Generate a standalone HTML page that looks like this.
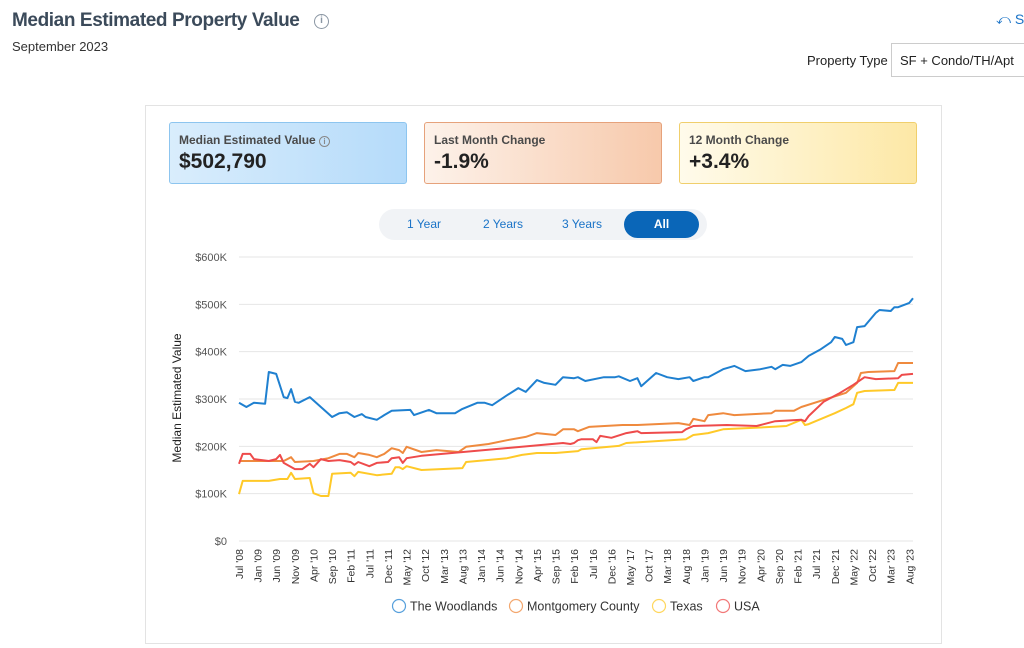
<!DOCTYPE html>
<html><head><meta charset="utf-8">
<style>
*{box-sizing:border-box;margin:0;padding:0}
body{width:1024px;height:648px;background:#fff;font-family:"Liberation Sans",sans-serif;position:relative;overflow:hidden;color:#222}
.abs{position:absolute}
.stat{position:absolute;top:122px;height:62px;width:238px;border-radius:3px;border:1px solid}
.stat .l{position:absolute;left:9px;top:10px;font-size:12px;font-weight:bold;color:#4a4a4a;white-space:nowrap}
.stat .v{position:absolute;left:9px;top:27px;font-size:21px;font-weight:bold;color:#222}
.tg{position:absolute;top:209px;height:31px;font-size:12px;color:#1a73c7;line-height:31px;text-align:center}
</style></head><body>
<div class="abs" style="left:12px;top:10px;font-size:19px;letter-spacing:-0.4px;font-weight:bold;color:#3b4a5a;white-space:nowrap">Median Estimated Property Value</div>
<div class="abs" style="left:314px;top:14px;width:15px;height:15px;border:1.5px solid #8a96a3;border-radius:50%;font-size:10px;color:#8a96a3;text-align:center;line-height:12px;font-weight:bold">i</div>
<div class="abs" style="left:12px;top:39px;font-size:13px;color:#333">September 2023</div>
<div class="abs" style="left:996px;top:11px;font-size:14px;color:#1a73c7;white-space:nowrap">⤺ S</div>
<div class="abs" style="left:807px;top:53px;font-size:13px;color:#222">Property Type</div>
<div class="abs" style="left:891px;top:43px;width:140px;height:34px;border:1px solid #ccc;font-size:13px;padding:9px 8px;color:#222;white-space:nowrap">SF + Condo/TH/Apt</div>

<div class="abs" style="left:145px;top:105px;width:797px;height:539px;border:1px solid #e3e3e3"></div>

<div class="stat" style="left:169px;background:linear-gradient(90deg,#d9edfc,#b5dbfa);border-color:#8dc5ef">
<div class="l">Median Estimated Value <span style="display:inline-block;width:11px;height:11px;border:1px solid #888;border-radius:50%;font-size:8px;text-align:center;line-height:9px;color:#888">i</span></div><div class="v">$502,790</div></div>
<div class="stat" style="left:424px;background:linear-gradient(90deg,#fdf2ea,#f7c9ab);border-color:#e6a27b">
<div class="l">Last Month Change</div><div class="v">-1.9%</div></div>
<div class="stat" style="left:679px;background:linear-gradient(90deg,#fffbeb,#fde8a6);border-color:#f0cf6c">
<div class="l">12 Month Change</div><div class="v">+3.4%</div></div>

<div class="abs" style="left:379px;top:209px;width:328px;height:31px;background:#f1f3f6;border-radius:16px"></div>
<div class="tg" style="left:394px;width:60px">1 Year</div>
<div class="tg" style="left:470px;width:66px">2 Years</div>
<div class="tg" style="left:549px;width:66px">3 Years</div>
<div class="tg" style="left:624px;top:211px;height:27px;line-height:27px;width:75px;background:#0a66b8;color:#fff;border-radius:14px;font-weight:bold">All</div>

<svg class="abs" style="left:0;top:0" width="1024" height="648" id="chart"></svg>

<script>
const yTicks=[0,100,200,300,400,500,600];
const xLabels=["Jul '08","Jan '09","Jun '09","Nov '09","Apr '10","Sep '10","Feb '11","Jul '11","Dec '11","May '12","Oct '12","Mar '13","Aug '13","Jan '14","Jun '14","Nov '14","Apr '15","Sep '15","Feb '16","Jul '16","Dec '16","May '17","Oct '17","Mar '18","Aug '18","Jan '19","Jun '19","Nov '19","Apr '20","Sep '20","Feb '21","Jul '21","Dec '21","May '22","Oct '22","Mar '23","Aug '23"];
const seriesNames=["The Woodlands","Montgomery County","Texas","USA"];
const woodlandsMonths=[0,2,4,7,8,10,12,13,14,15,16,19,25,27,29,31,33,34,37,39,41,46,47,51,53,58,60,64,66,68,72,75,77,80,82,85,87,90,91,93,98,101,102,105,107,108,112,115,118,121,122,125,126,130,133,136,140,143,144,146,148,151,153,156,159,160,162,163,165,166,168,171,172,175,176,177,180,181];
const woodlandsValues=[292,283,292,290,357,353,304,302,321,294,292,304,262,270,272,262,268,262,256,266,275,277,266,277,270,270,279,292,292,287,308,323,315,340,334,330,346,344,346,338,346,346,348,338,344,327,355,346,342,346,338,346,346,363,370,359,363,368,363,372,370,378,391,404,420,431,427,414,420,452,454,482,488,486,494,494,503,513,503];
const montgomeryMonths=[0,9,12,14,15,20,24,27,29,31,32,35,37,39,41,43,44,45,49,53,59,61,67,72,77,80,85,87,90,91,94,103,107,118,121,122,125,126,130,133,143,144,149,151,157,163,166,167,169,176,177,181];
const montgomeryValues=[169,169,169,177,167,169,175,184,184,177,186,182,177,184,196,192,186,199,188,192,188,199,205,213,220,228,224,236,236,232,241,245,245,249,245,258,253,266,270,266,270,275,275,283,298,313,334,355,357,359,376,376];
const texasMonths=[0,1,8,11,13,14,15,19,20,22,24,25,30,31,32,37,41,42,43,44,45,49,60,61,72,76,80,85,91,92,102,104,120,122,126,130,143,147,151,152,153,160,163,165,166,168,176,177,181];
const texasValues=[99,127,127,131,131,144,131,133,101,95,95,142,144,137,146,139,142,156,156,152,158,150,154,167,175,182,186,186,190,194,201,207,215,224,228,236,241,243,256,245,247,270,281,289,313,317,319,334,334];
const usaMonths=[0,1,3,4,8,10,11,12,15,17,19,20,22,24,27,30,31,32,35,37,40,41,43,44,45,49,87,89,90,91,92,95,96,97,100,104,107,108,119,120,122,131,139,144,151,152,153,157,161,165,168,171,177,178,181];
const usaValues=[163,184,184,173,169,173,182,165,152,152,163,156,173,169,171,167,161,167,158,165,167,175,177,165,175,180,207,205,207,213,215,215,209,222,218,228,232,228,230,236,243,245,243,253,256,253,264,294,311,330,346,342,344,351,353];

const svg=document.getElementById('chart');
const NS='http://www.w3.org/2000/svg';
const X0=239,X1=913,Y0=541,Y1=257,NM=181,YMAX=600;
const xs=m=>X0+(X1-X0)*m/NM;
const ys=v=>Y0-(Y0-Y1)*v/YMAX;
function mk(t,a){const e=document.createElementNS(NS,t);for(const k in a)e.setAttribute(k,a[k]);svg.appendChild(e);return e;}
yTicks.forEach(v=>{
  const g=mk('line',{x1:X0,x2:X1,y1:ys(v),y2:ys(v),stroke:'#e6e6e6','stroke-width':1});
  
  
  const t=mk('text',{x:227,y:ys(v)+4,'text-anchor':'end','font-size':11,fill:'#555','font-family':'Liberation Sans, sans-serif'});
  t.textContent=v===0?'$0':'$'+v+'K';
  
  
});
const yt=mk('text',{x:0,y:0,transform:'translate(181,398) rotate(-90)','text-anchor':'middle','font-size':12,fill:'#222','font-family':'Liberation Sans, sans-serif'});
yt.textContent='Median Estimated Value';


xLabels.forEach((s,i)=>{
  const x=xs(i*5);
  const t=mk('text',{x:0,y:0,transform:`translate(${x+4},549) rotate(-90)`,'text-anchor':'end','font-size':10.5,fill:'#333','font-family':'Liberation Sans, sans-serif'});
  t.textContent=s;
  
  
});
const colors=['#1f80d0','#ef8a3e','#ffc928','#ee4b4b'];
const order=[[texasMonths,texasValues,2],[montgomeryMonths,montgomeryValues,1],[usaMonths,usaValues,3],[woodlandsMonths,woodlandsValues,0]];
const lineNames=['woodlands-line','montgomery-line','texas-line','usa-line'];
order.forEach(([ms,vs,c])=>{
  const d=ms.map((m,i)=>(i?'L':'M')+xs(m).toFixed(1)+','+ys(vs[i]).toFixed(1)).join('');
  const p=mk('path',{d:d,fill:'none',stroke:colors[c],'stroke-width':2,'stroke-linejoin':'round'});
  
  
});
const lx=[399,516,659,723];
seriesNames.forEach((n,i)=>{
  const c=mk('circle',{cx:lx[i],cy:606,r:6.5,fill:'none',stroke:colors[i],'stroke-width':1.2,opacity:0.75});
  
  
  const t=mk('text',{x:lx[i]+11,y:610.5,'font-size':12.5,fill:'#333','font-family':'Liberation Sans, sans-serif'});
  t.textContent=n;
  
  
});
</script>
</body></html>
